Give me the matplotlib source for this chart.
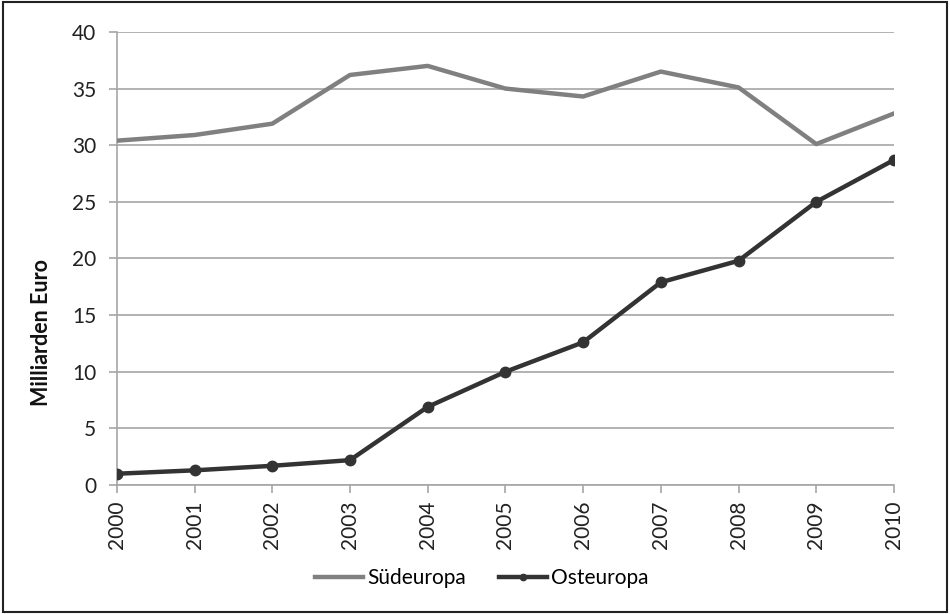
import matplotlib
matplotlib.use("Agg")
import matplotlib.pyplot as plt
from matplotlib.patches import Rectangle

plt.rcParams['font.family'] = ['Lato', 'DejaVu Sans']

# ── Daten ────────────────────────────────────────────────────────────────────
years = [2000, 2001, 2002, 2003, 2004, 2005, 2006, 2007, 2008, 2009, 2010]
sued  = [30.4, 30.9, 31.9, 36.2, 37.0, 35.0, 34.3, 36.5, 35.1, 30.1, 32.8]
ost   = [1.0, 1.3, 1.7, 2.2, 6.9, 10.0, 12.6, 17.9, 19.8, 25.0, 28.7]
yticks = [0, 5, 10, 15, 20, 25, 30, 35, 40]

fig = plt.figure(figsize=(9.5, 6.14), dpi=100)
ax = fig.add_axes([0.123, 0.21, 0.818, 0.738])

grid_c = "#a6a6a6"
ax.plot(years, sued, color="#808080", lw=3.2, label="Südeuropa", zorder=3)
ax.plot(years, ost, color="#333333", lw=3.2, marker="o", ms=7.5,
        label="Osteuropa", zorder=4)

ax.set_xlim(years[0], years[-1])
ax.set_ylim(0, 40)
ax.set_yticks(yticks)
ax.set_xticks(years)
ax.set_xticklabels([str(y) for y in years], rotation=90)
ax.yaxis.grid(True, color=grid_c, lw=1.2)
ax.set_axisbelow(True)

for s in ["top", "right"]:
    ax.spines[s].set_visible(False)
for s in ["left", "bottom"]:
    ax.spines[s].set_color(grid_c)
    ax.spines[s].set_linewidth(1.2)
ax.tick_params(axis="both", colors=grid_c, length=6, width=1.2,
               labelcolor="#222222", labelsize=15)
ax.tick_params(axis="x", pad=5)
ax.tick_params(axis="y", pad=9)

# Achsentitel sitzt in der Vorlage unterhalb der Achsenmitte
fig.text(0.044, 0.459, "Milliarden Euro", fontsize=15.5, fontweight="bold",
         color="#111111", rotation=90, ha="center", va="center")

leg = fig.legend(loc="center", bbox_to_anchor=(0.507, 0.058), ncol=2,
                 frameon=False, fontsize=15, handlelength=2.3,
                 columnspacing=1.6, handletextpad=0.2, markerscale=0.6)

fig.patches.append(Rectangle((0.003, 0.004), 0.994, 0.992,
                             transform=fig.transFigure, fill=False,
                             edgecolor="#222222", lw=1.5))

plt.savefig("out.png", dpi=100)
